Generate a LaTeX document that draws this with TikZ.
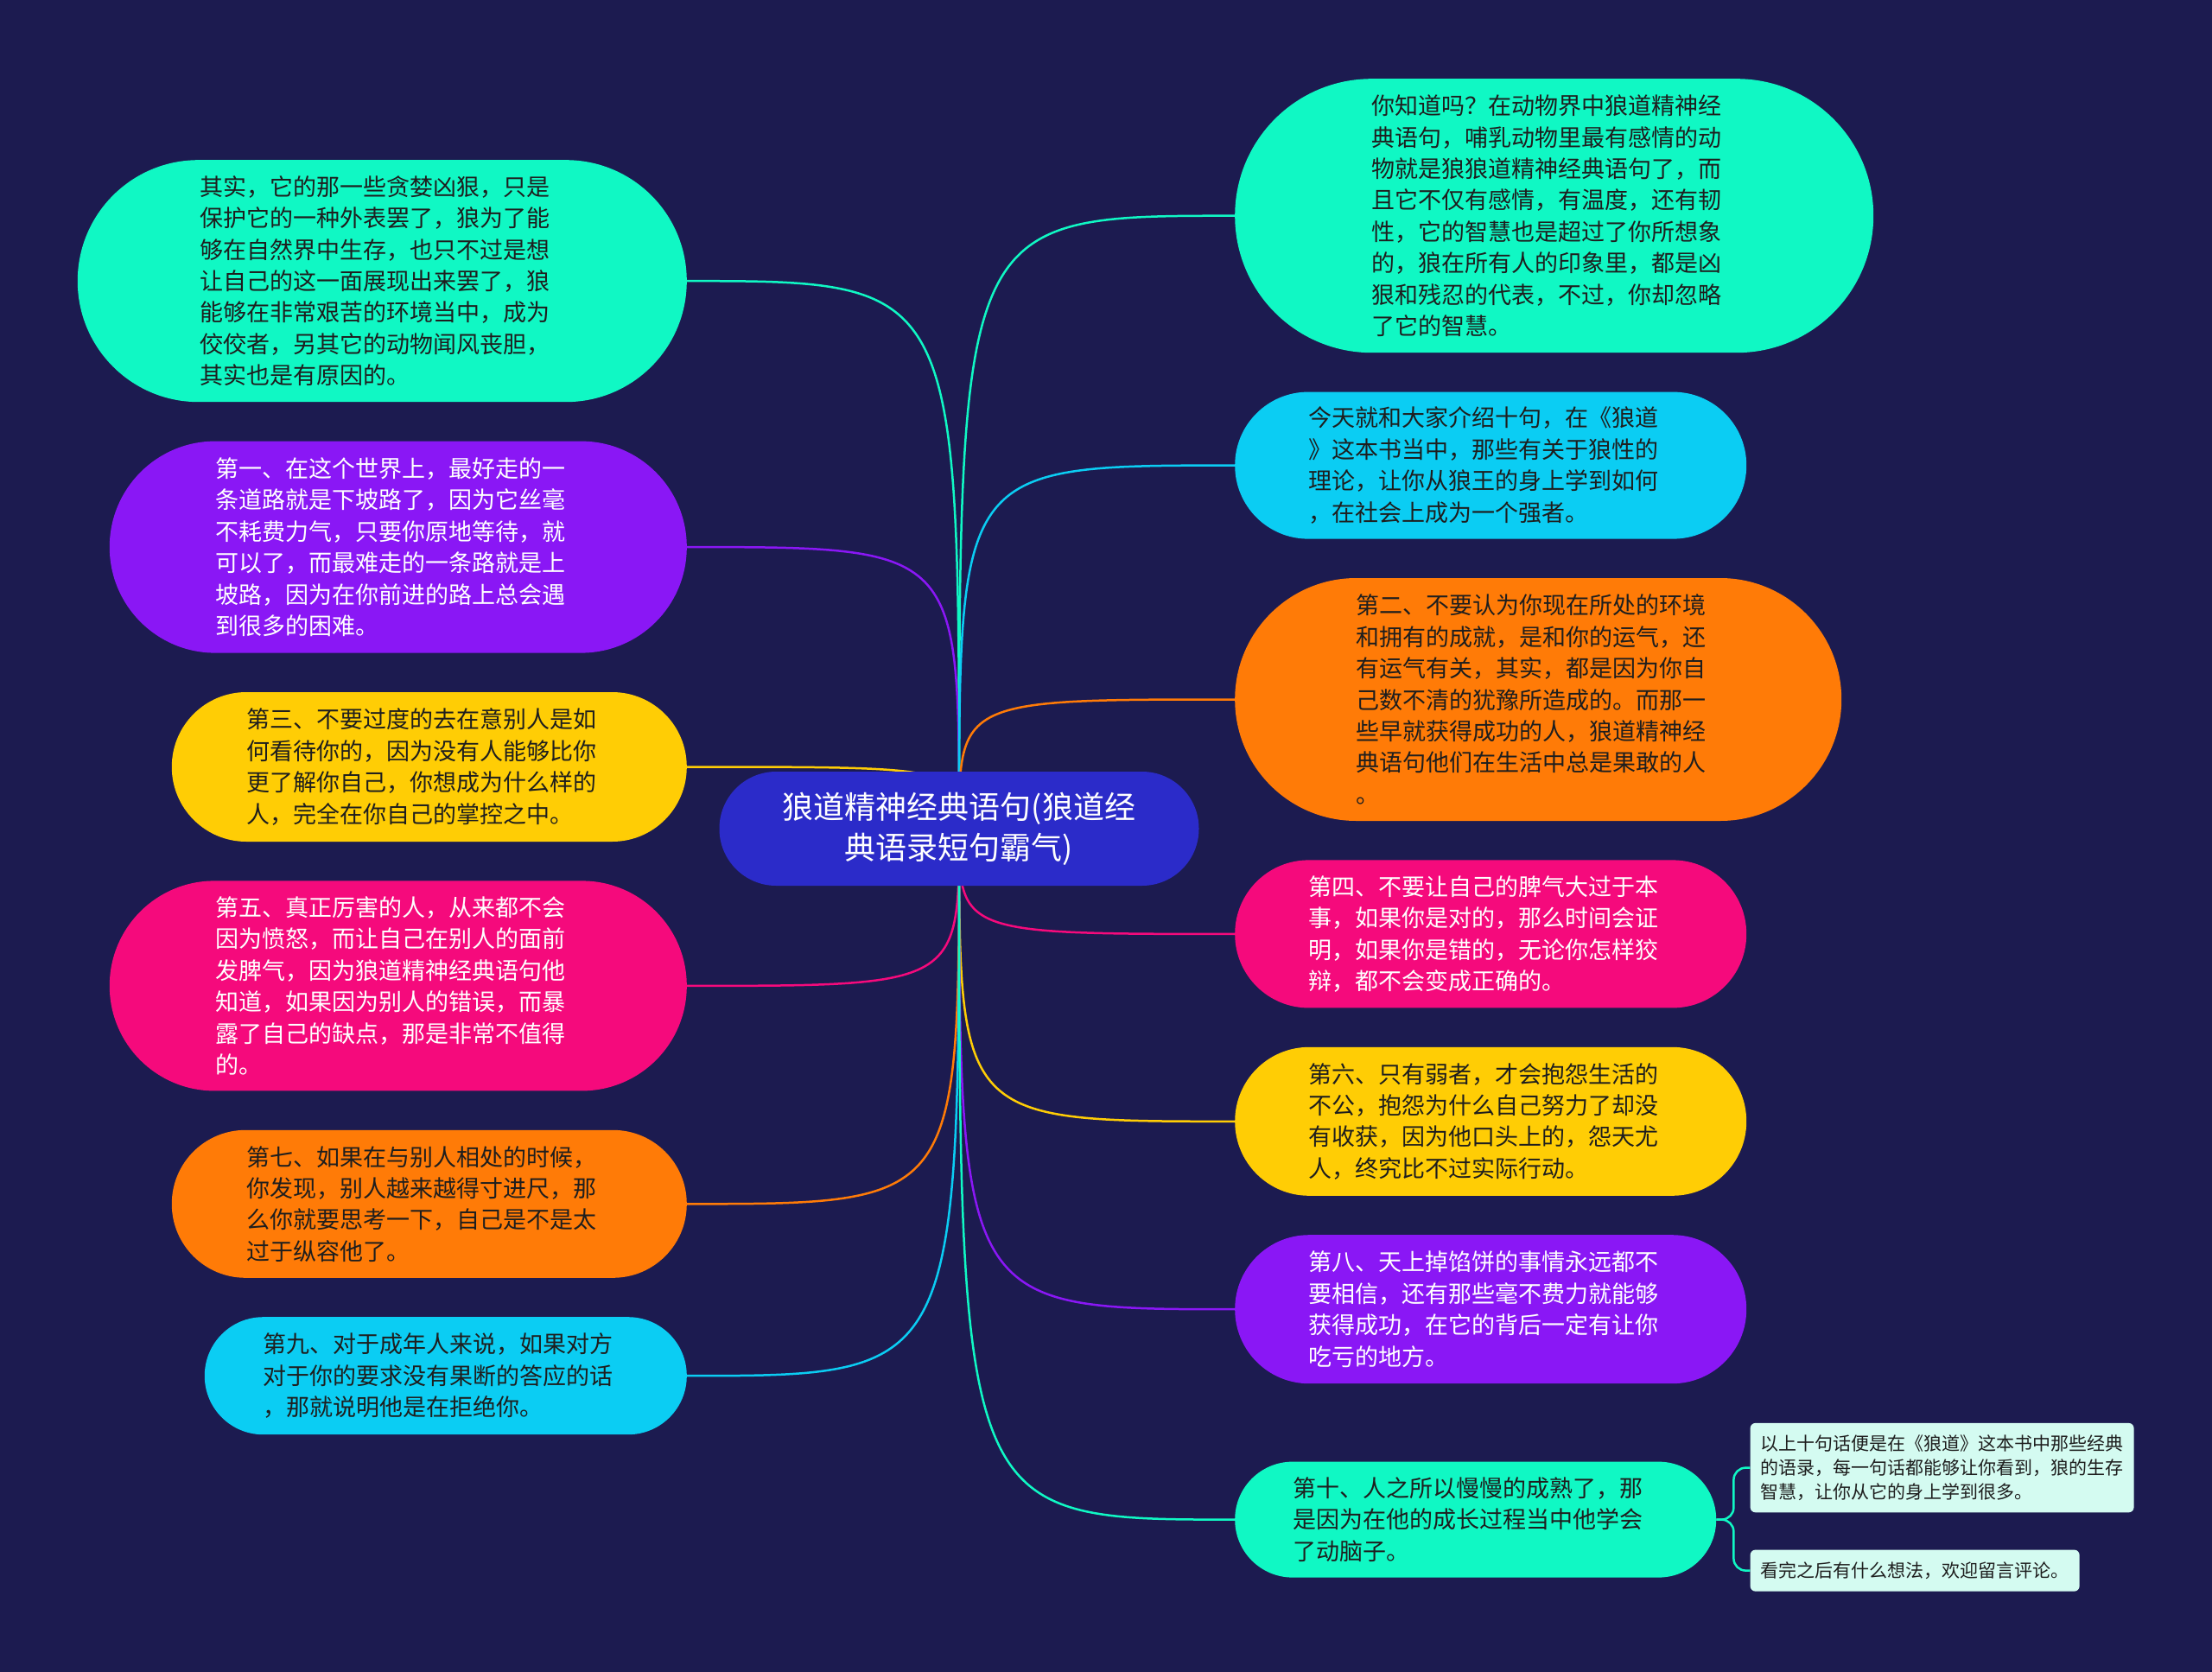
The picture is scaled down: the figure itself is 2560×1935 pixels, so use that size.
\documentclass[tikz,border=0pt]{standalone}
\usepackage{fontspec}
\newfontfamily\cjk{Noto Sans CJK SC}
\usetikzlibrary{positioning,backgrounds}

\definecolor{bgnavy}{HTML}{1C1B50}
\definecolor{cTeal}{HTML}{10F8C4}
\definecolor{cPurple}{HTML}{8A17F5}
\definecolor{cYellow}{HTML}{FFCD05}
\definecolor{cPink}{HTML}{F50A7C}
\definecolor{cOrange}{HTML}{FF7B07}
\definecolor{cCyan}{HTML}{0BCDF3}
\definecolor{cHub}{HTML}{2B2BC9}
\definecolor{cLeaf}{HTML}{D4FBF1}
\definecolor{ink}{HTML}{1E1E1E}

\begin{document}
\begin{tikzpicture}[x=1pt,y=-1pt,
 pill/.style 2 args={minimum width=#1pt,minimum height=#2pt,rounded corners=#2pt/2-0.2pt,inner sep=4pt,
   text width=422pt,align=left,text=ink,font=\cjk\fontsize{27pt}{36.4pt}\selectfont},
 hub/.style={fill=cHub,text=white,minimum width=555pt,minimum height=132pt,rounded corners=65.8pt,
   align=center,font=\cjk\fontsize{36pt}{47pt}\selectfont},
 leaf/.style={fill=cLeaf,text=ink,rounded corners=6pt,inner xsep=12pt,inner ysep=14pt,align=left,
   font=\cjk\fontsize{21pt}{27.7pt}\selectfont},
 link/.style={draw=#1,line width=2.5pt}]
\useasboundingbox (0,0) rectangle (2560,1935);

\node[hub] (hub) at (1110,959) {狼道精神经典语句(狼道经\\典语录短句霸气)};

% left column
\node[pill={705}{280},fill=cTeal,anchor=north east] (l1) at (795,185) {其实，它的那一些贪婪凶狠，只是\\保护它的一种外表罢了，狼为了能\\够在自然界中生存，也只不过是想\\让自己的这一面展现出来罢了，狼\\能够在非常艰苦的环境当中，成为\\佼佼者，另其它的动物闻风丧胆，\\其实也是有原因的。};
\node[pill={668}{245},fill=cPurple,text=white,below left=45pt and 0pt of l1.south east] (l2) {第一、在这个世界上，最好走的一\\条道路就是下坡路了，因为它丝毫\\不耗费力气，只要你原地等待，就\\可以了，而最难走的一条路就是上\\坡路，因为在你前进的路上总会遇\\到很多的困难。};
\node[pill={596}{173},fill=cYellow,below left=45pt and 0pt of l2.south east] (l3) {第三、不要过度的去在意别人是如\\何看待你的，因为没有人能够比你\\更了解你自己，你想成为什么样的\\人，完全在你自己的掌控之中。};
\node[pill={668}{243},fill=cPink,text=white,below left=45pt and 0pt of l3.south east] (l4) {第五、真正厉害的人，从来都不会\\因为愤怒，而让自己在别人的面前\\发脾气，因为狼道精神经典语句他\\知道，如果因为别人的错误，而暴\\露了自己的缺点，那是非常不值得\\的。};
\node[pill={596}{171},fill=cOrange,below left=45pt and 0pt of l4.south east] (l5) {第七、如果在与别人相处的时候，\\你发现，别人越来越得寸进尺，那\\么你就要思考一下，自己是不是太\\过于纵容他了。};
\node[pill={558}{136},fill=cCyan,below left=45pt and 0pt of l5.south east] (l6) {第九、对于成年人来说，如果对方\\对于你的要求没有果断的答应的话\\，那就说明他是在拒绝你。};

% right column
\node[pill={739}{317},fill=cTeal,anchor=north west] (r1) at (1429,91) {你知道吗？在动物界中狼道精神经\\典语句，哺乳动物里最有感情的动\\物就是狼狼道精神经典语句了，而\\且它不仅有感情，有温度，还有韧\\性，它的智慧也是超过了你所想象\\的，狼在所有人的印象里，都是凶\\狠和残忍的代表，不过，你却忽略\\了它的智慧。};
\node[pill={592}{170},fill=cCyan,below right=45pt and 0pt of r1.south west] (r2) {今天就和大家介绍十句，在《狼道\\》这本书当中，那些有关于狼性的\\理论，让你从狼王的身上学到如何\\，在社会上成为一个强者。};
\node[pill={702}{281},fill=cOrange,below right=45pt and 0pt of r2.south west] (r3) {第二、不要认为你现在所处的环境\\和拥有的成就，是和你的运气，还\\有运气有关，其实，都是因为你自\\己数不清的犹豫所造成的。而那一\\些早就获得成功的人，狼道精神经\\典语句他们在生活中总是果敢的人\\。};
\node[pill={592}{171},fill=cPink,text=white,below right=45pt and 0pt of r3.south west] (r4) {第四、不要让自己的脾气大过于本\\事，如果你是对的，那么时间会证\\明，如果你是错的，无论你怎样狡\\辩，都不会变成正确的。};
\node[pill={592}{172},fill=cYellow,below right=45pt and 0pt of r4.south west] (r5) {第六、只有弱者，才会抱怨生活的\\不公，抱怨为什么自己努力了却没\\有收获，因为他口头上的，怨天尤\\人，终究比不过实际行动。};
\node[pill={592}{172},fill=cPurple,text=white,below right=45pt and 0pt of r5.south west] (r6) {第八、天上掉馅饼的事情永远都不\\要相信，还有那些毫不费力就能够\\获得成功，在它的背后一定有让你\\吃亏的地方。};
\node[pill={557}{134},fill=cTeal,below right=90pt and 0pt of r6.south west] (r7) {第十、人之所以慢慢的成熟了，那\\是因为在他的成长过程当中他学会\\了动脑子。};

\node[leaf,right=39pt of r7.east,yshift=60pt] (note1) {以上十句话便是在《狼道》这本书中那些经典\\的语录，每一句话都能够让你看到，狼的生存\\智慧，让你从它的身上学到很多。};
\node[leaf,right=39pt of r7.east,yshift=-59pt] (note2) {看完之后有什么想法，欢迎留言评论。};
\coordinate[right=20pt of r7.east] (fork);

\begin{scope}[on background layer]
\fill[bgnavy] (0,0) rectangle (2560,1935);
\draw[link=cTeal] (hub.center) .. controls (hub.center |- l1.east) .. (l1.east);
\draw[link=cPurple] (hub.center) .. controls (hub.center |- l2.east) .. (l2.east);
\draw[link=cYellow] (hub.center) .. controls (hub.center |- l3.east) .. (l3.east);
\draw[link=cPink] (hub.center) .. controls (hub.center |- l4.east) .. (l4.east);
\draw[link=cOrange] (hub.center) .. controls (hub.center |- l5.east) .. (l5.east);
\draw[link=cCyan] (hub.center) .. controls (hub.center |- l6.east) .. (l6.east);
\draw[link=cTeal] (hub.center) .. controls (hub.center |- r1.west) .. (r1.west);
\draw[link=cCyan] (hub.center) .. controls (hub.center |- r2.west) .. (r2.west);
\draw[link=cOrange] (hub.center) .. controls (hub.center |- r3.west) .. (r3.west);
\draw[link=cPink] (hub.center) .. controls (hub.center |- r4.west) .. (r4.west);
\draw[link=cYellow] (hub.center) .. controls (hub.center |- r5.west) .. (r5.west);
\draw[link=cPurple] (hub.center) .. controls (hub.center |- r6.west) .. (r6.west);
\draw[link=cTeal] (hub.center) .. controls (hub.center |- r7.west) .. (r7.west);
\draw[link=cTeal,rounded corners=14pt] (r7.east) -- (fork) |- (note1.west);
\draw[link=cTeal,rounded corners=14pt] (r7.east) -- (fork) |- (note2.west);
\end{scope}
\end{tikzpicture}
\end{document}
